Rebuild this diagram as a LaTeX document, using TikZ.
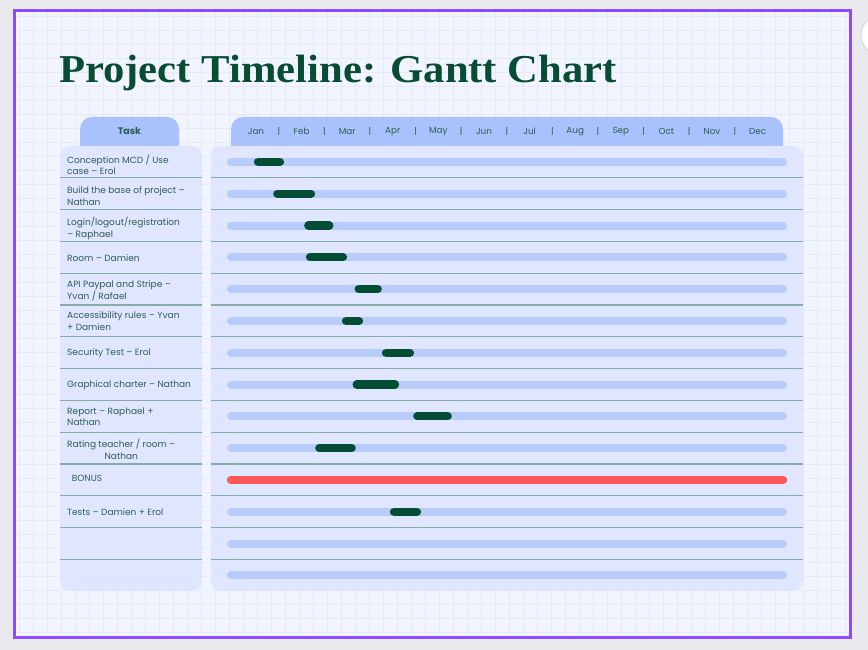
\documentclass[tikz,border=0pt]{standalone}
\usepackage{fontspec}
\setmainfont{Poppins}
\newfontfamily\titlefont{Liberation Serif}
\definecolor{outerc}{RGB}{233,234,238}
\definecolor{bgc}{RGB}{242,245,255}
\definecolor{gridc}{RGB}{228,234,252}
\definecolor{framec}{RGB}{140,75,255}
\definecolor{titlec}{RGB}{8,76,52}
\definecolor{tabc}{RGB}{169,193,253}
\definecolor{panelc}{RGB}{224,230,255}
\definecolor{sepc}{RGB}{134,172,168}
\definecolor{trackc}{RGB}{184,204,252}
\definecolor{barc}{RGB}{4,77,53}
\definecolor{redc}{RGB}{255,87,87}
\definecolor{textc}{RGB}{46,93,80}
\definecolor{circc}{RGB}{216,216,220}
\tikzset{
  tasklabel/.style={anchor=west,inner sep=0pt,align=left,text=textc,font=\fontsize{9}{11.7}\selectfont},
  monthlabel/.style={inner sep=0pt,text=textc,font=\fontsize{8.8}{10}\selectfont},
  track/.style={draw=trackc,line width=8pt,line cap=round},
  taskbar/.style={draw=barc,line width=8.3pt,line cap=round},
  bonusbar/.style={draw=redc,line width=8.3pt,line cap=round},
  sepline/.style={draw=sepc,line width=1.2pt},
  panel/.style={fill=panelc,rounded corners=10pt},
  tab/.style={fill=tabc,rounded corners=12pt}
}
\begin{document}
\begin{tikzpicture}[x=1pt,y=-1pt]
\useasboundingbox (0,0) rectangle (868,650);
\fill[outerc] (0,0) rectangle (868,650);
\filldraw[fill=white,draw=circc,line width=1pt] (881,35) circle (20);
\fill[bgc] (14.5,10.5) rectangle (850.3,637.3);
\begin{scope}
\clip (14.5,10.5) rectangle (850.3,637.3);
\foreach \x in {19.7,33.7,...,850} \draw[gridc,line width=0.9pt] (\x,10) -- (\x,638);
\foreach \y in {16.7,30.7,...,638} \draw[gridc,line width=0.9pt] (14,\y) -- (851,\y);
\end{scope}
\draw[framec,line width=3pt] (14.5,10.5) rectangle (850.3,637.3);
% title
\node[anchor=base west,inner sep=0pt,text=titlec] (title) at (59,83)
  {\scalebox{1.08}[1]{\titlefont\bfseries\fontsize{39.5}{40}\selectfont Project Timeline: Gantt Chart}};
% tabs
\fill[tab] (80,117) rectangle (179,170);
\fill[tab] (231,117) rectangle (783,170);
% panels
\fill[panel] (60,146) rectangle (202,591);
\fill[panel] (210.7,146) rectangle (803,591);
% header texts
\node[monthlabel,font=\fontsize{9.5}{10}\selectfont\bfseries] (taskhead) at (129.5,131.3) {Task};
\foreach \m [count=\i from 0] in {Jan,Feb,Mar,Apr,May,Jun,Jul,Aug,Sep,Oct,Nov,Dec}
  \node[monthlabel] (m\i) at ({256+45.6*\i},131.3) {\m};
\foreach \i in {0,...,10}
  \node[monthlabel] (s\i) at ({278.8+45.6*\i},131.3) {|};
% separators
\foreach \k in {1,...,13} {
  \draw[sepline] (60,{146+31.8*\k}) -- (202,{146+31.8*\k});
  \draw[sepline] (210.7,{146+31.8*\k}) -- (803,{146+31.8*\k});
}
% tracks
\foreach \k in {1,...,14}
  \draw[track] (231,{146+31.8*(\k-0.5)}) -- (783,{146+31.8*(\k-0.5)});
% task labels
\node[tasklabel] (t1) at (67,{146+31.8*0.5+3}) {Conception MCD / Use\\case – Erol};
\node[tasklabel] (t2) at (67,{146+31.8*1.5+2.7}) {Build the base of project –\\Nathan};
\node[tasklabel] (t3) at (67,{146+31.8*2.5+3}) {Login/logout/registration\\– Raphael};
\node[tasklabel] (t4) at (67,{146+31.8*3.5+1}) {Room – Damien};
\node[tasklabel] (t5) at (67,{146+31.8*4.5+1.5}) {API Paypal and Stripe –\\Yvan / Rafael};
\node[tasklabel] (t6) at (67,{146+31.8*5.5+0.5}) {Accessibility rules – Yvan\\+ Damien};
\node[tasklabel] (t7) at (67,{146+31.8*6.5+1}) {Security Test – Erol};
\node[tasklabel] (t8) at (67,{146+31.8*7.5+0.5}) {Graphical charter – Nathan};
\node[tasklabel] (t9) at (67,{146+31.8*8.5+0.5}) {Report – Raphael +\\Nathan};
\node[tasklabel,align=center] (t10) at (67,{146+31.8*9.5+1}) {Rating teacher / room –\\Nathan};
\node[tasklabel] (t11) at (71.7,{146+31.8*10.5-1.5}) {BONUS};
\node[tasklabel] (t12) at (67,{146+31.8*11.5}) {Tests – Damien + Erol};
% bars
\draw[taskbar] (258,{146+31.8*0.5}) -- (280,{146+31.8*0.5});
\draw[taskbar] (277.3,{146+31.8*1.5}) -- (311,{146+31.8*1.5});
\draw[taskbar] (308.3,{146+31.8*2.5}) -- (329.3,{146+31.8*2.5});
\draw[taskbar] (310,{146+31.8*3.5}) -- (343,{146+31.8*3.5});
\draw[taskbar] (358.7,{146+31.8*4.5}) -- (377.7,{146+31.8*4.5});
\draw[taskbar] (346,{146+31.8*5.5}) -- (359,{146+31.8*5.5});
\draw[taskbar] (386,{146+31.8*6.5}) -- (410,{146+31.8*6.5});
\draw[taskbar] (356.7,{146+31.8*7.5}) -- (395,{146+31.8*7.5});
\draw[taskbar] (417.3,{146+31.8*8.5}) -- (447.7,{146+31.8*8.5});
\draw[taskbar] (319.3,{146+31.8*9.5}) -- (351.7,{146+31.8*9.5});
\draw[bonusbar] (231,{146+31.8*10.5}) -- (783,{146+31.8*10.5});
\draw[taskbar] (394,{146+31.8*11.5}) -- (417,{146+31.8*11.5});
\end{tikzpicture}
\end{document}
